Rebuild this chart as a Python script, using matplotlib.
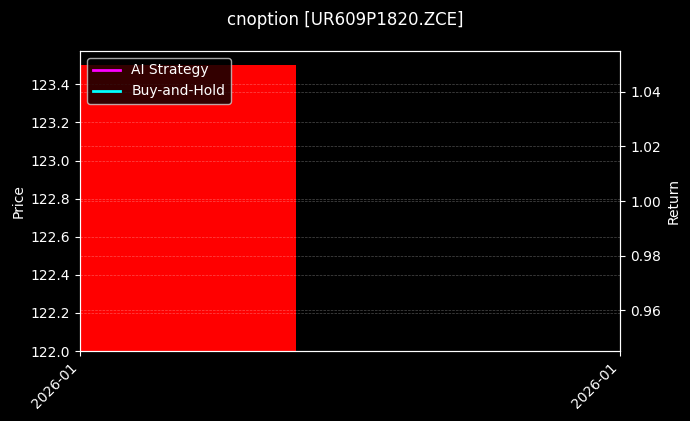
import matplotlib
matplotlib.use('Agg')
import matplotlib.pyplot as plt
import matplotlib.dates as mdates
import pandas as pd

plt.style.use('dark_background')

# single trading bar
dates = pd.to_datetime(['2026-01-05'])
price_low = [122.0]
price_high = [123.5]
ai_return = [1.0]
bh_return = [1.0]
title = 'cnoption [UR609P1820.ZCE]'

fig, ax = plt.subplots(figsize=(6.9, 4.21), dpi=100)
ax.bar(dates, [h - l for h, l in zip(price_high, price_low)], bottom=price_low,
       width=0.8, align='edge', color='red')
ax.set_ylim(122.0, 123.575)
ax.set_xlim(dates[0], dates[0] + pd.Timedelta(days=2))
ax.set_ylabel('Price')
ax.grid(True, linestyle='--', linewidth=0.5, alpha=0.3)

ax2 = ax.twinx()
l1, = ax2.plot(dates, ai_return, color='magenta', linewidth=2, label='AI Strategy')
l2, = ax2.plot(dates, bh_return, color='cyan', linewidth=2, label='Buy-and-Hold')
ax2.set_ylabel('Return')
ax2.grid(True, linestyle='--', linewidth=0.5, alpha=0.3)

ax.set_xticks([dates[0], dates[0] + pd.Timedelta(days=2)])
ax.xaxis.set_major_formatter(mdates.DateFormatter('%Y-%m'))
plt.setp(ax.get_xticklabels(), rotation=45, ha='right')

ax2.legend(handles=[l1, l2], loc='upper left')
fig.suptitle(title, y=0.975)
fig.subplots_adjust(left=0.116, right=0.899, top=0.879, bottom=0.166)
fig.savefig('out.png')
